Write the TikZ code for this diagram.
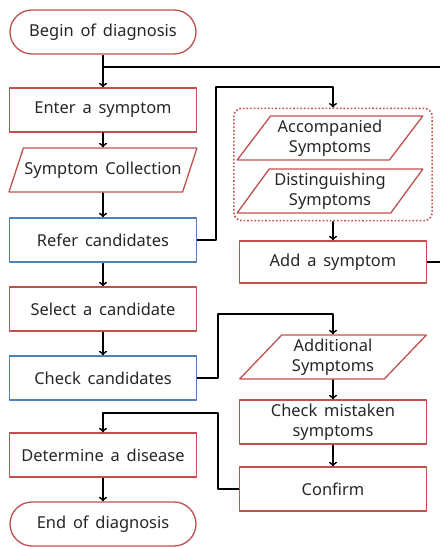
\documentclass[tikz,border=0pt]{standalone}
\usepackage{fontspec}
\setmainfont[WordSpace=1.6]{Noto Sans}
\usetikzlibrary{arrows,shapes,fit}

\definecolor{boxred}{HTML}{C0504D}
\definecolor{boxblue}{HTML}{4F81BD}
\definecolor{textgray}{HTML}{262626}

\begin{document}
\begin{tikzpicture}[>=to,line join=bevel,
  every node/.style={font=\fontsize{16.5}{20}\selectfont,text=textgray,align=center,inner sep=1bp},
  term/.style={draw=boxred,line width=1.3bp,rounded corners=22bp,minimum width=186bp,minimum height=44bp},
  proc/.style={draw=boxred,line width=1.3bp,minimum width=187bp,minimum height=44bp},
  refproc/.style={proc,draw=boxblue},
  data/.style={draw=boxred,line width=1.3bp,trapezium,trapezium left angle=52,trapezium right angle=128,
    trapezium stretches=true,minimum width=187bp,minimum height=44bp},
  link/.style={line width=1.8bp}]

\useasboundingbox (0,0) rectangle (440bp,547bp);

% Node: left column
\node[term] (begin) at (103bp,515bp) {Begin of diagnosis};
\node[proc] (enter) at (103bp,437bp) {Enter a symptom};
\node[data] (collect) at (103bp,377bp) {Symptom Collection};
\node[refproc] (refer) at (103bp,307bp) {Refer candidates};
\node[proc] (select) at (103bp,238bp) {Select a candidate};
\node[refproc] (checkc) at (103bp,169bp) {Check candidates};
\node[proc] (determine) at (103bp,92bp) {Determine a disease};
\node[term] (end) at (103bp,23bp) {End of diagnosis};

% Node: right column
\node[data,minimum width=186bp] (accomp) at (330bp,409bp) {Accompanied\\Symptoms};
\node[data,minimum width=186bp] (disting) at (330bp,356bp) {Distinguishing\\Symptoms};
\node[draw=boxred,dotted,line width=1.6bp,rounded corners=8bp,inner xsep=5bp,inner ysep=7bp,xshift=3bp,
  fit=(accomp.top left corner)(accomp.top right corner)(disting.bottom left corner)(disting.bottom right corner)] (group) {};
\node[proc,minimum height=42bp] (add) at (333bp,285bp) {Add a symptom};
\node[data,trapezium left angle=48,trapezium right angle=132] (addl) at (333bp,190bp) {Additional\\Symptoms};
\node[proc] (mistaken) at (333bp,125bp) {Check mistaken\\symptoms};
\node[proc] (confirm) at (333bp,58bp) {Confirm};

% Corners of the loops
\coordinate (merge) at (103bp,480bp);
\coordinate (far) at (460bp,480bp);
\coordinate (referup) at (216bp,460bp);
\coordinate (checkup) at (218bp,233bp);
\coordinate (confup) at (218bp,134bp);

% Edge: main line
\draw [->,link] (begin) -- (enter);
\draw [->,link] (enter) -- (collect);
\draw [->,link] (collect) -- (refer);
\draw [->,link] (refer) -- (select);
\draw [->,link] (select) -- (checkc);
\draw [->,link] (determine) -- (end);

% Edge: refer -> group -> add -> enter
\draw [->,link] (refer.east) -| (referup) -| (group.north);
\draw [->,link] (group) -- (add);
\draw [link] (add.east) -| (far) -- (merge);

% Edge: checkc -> addl -> mistaken -> confirm -> determine
\draw [->,link] (checkc.east) -| (checkup) -| (addl.north);
\draw [->,link] (addl) -- (mistaken);
\draw [->,link] (mistaken) -- (confirm);
\draw [->,link] (confirm.west) -| (confup) -| (determine.north);

\end{tikzpicture}
\end{document}
